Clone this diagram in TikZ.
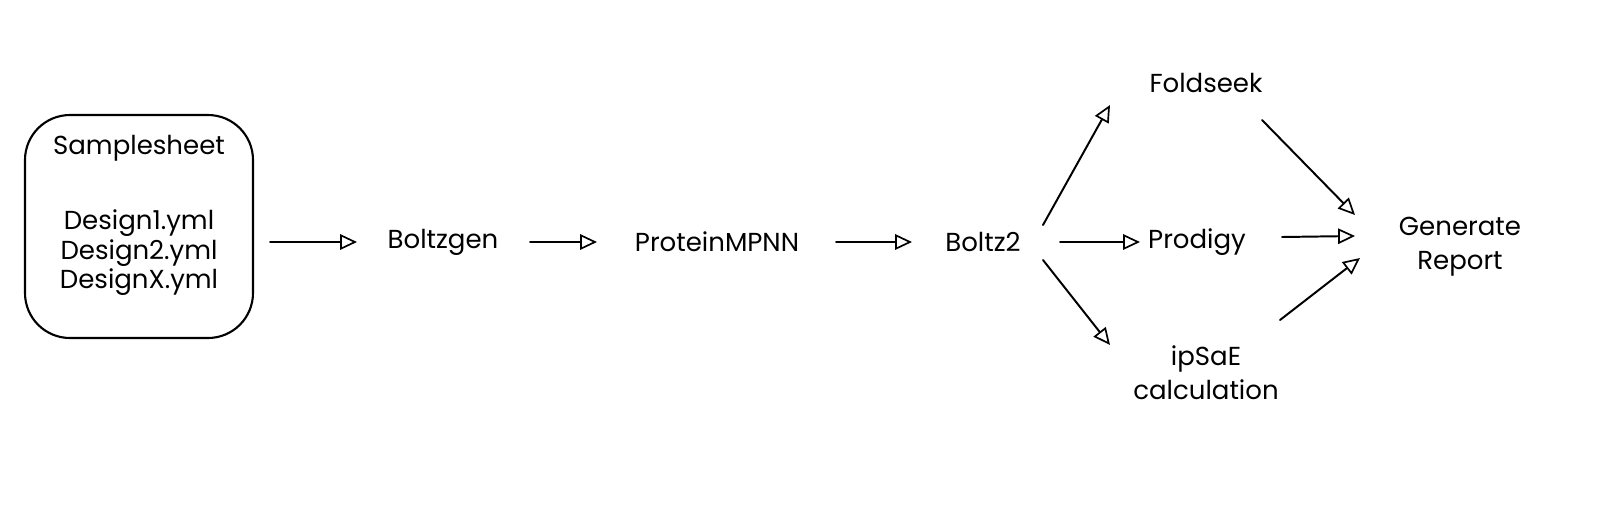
\documentclass[tikz,border=0pt]{standalone}
\usepackage{fontspec}
\setmainfont{Poppins}
\usetikzlibrary{arrows.meta}
\begin{document}
\begin{tikzpicture}[x=0.025cm,y=-0.025cm,
  lbl/.style={font=\fontsize{18.5}{24}\selectfont, align=center, inner sep=0pt},
  arr/.style={-{Triangle[open,length=12pt,width=11pt,line width=1.2pt]}, line width=1.4pt, line cap=round}]
\useasboundingbox (0,0) rectangle (1600,529);
\draw[line width=1.5pt, rounded corners=32] (25,115) rectangle (253,338);
\node[lbl] (ss) at (139,148) {Samplesheet};
\node[lbl, align=center] (box) at (139,253) {Design1.yml\\[-3pt]Design2.yml\\[-3pt]DesignX.yml};
\coordinate (boxE) at (270,242);
\node[lbl] (bg) at (443,242) {Boltzgen};
\node[lbl] (pm) at (717,242) {ProteinMPNN};
\node[lbl] (b2) at (983,242) {Boltz2};
\node[lbl] (fs) at (1206,83) {Foldseek};
\node[lbl] (pr) at (1197,242) {Prodigy};
\node[lbl] (ip) at (1206,373) {ipSaE\\calculation};
\node[lbl] (gr) at (1460,247) {Generate\\Report};
\draw[arr] (boxE) -- (357,242);
\draw[arr] (530,242) -- (597,242);
\draw[arr] (836,242) -- (912,242);
\draw[arr] (1043,225) -- (1110,105);
\draw[arr] (1060,242) -- (1140,242);
\draw[arr] (1043,260) -- (1110,345);
\draw[arr] (1262,120) -- (1355,215);
\draw[arr] (1282,237) -- (1355,236);
\draw[arr] (1280,320) -- (1360,258);
\end{tikzpicture}
\end{document}
